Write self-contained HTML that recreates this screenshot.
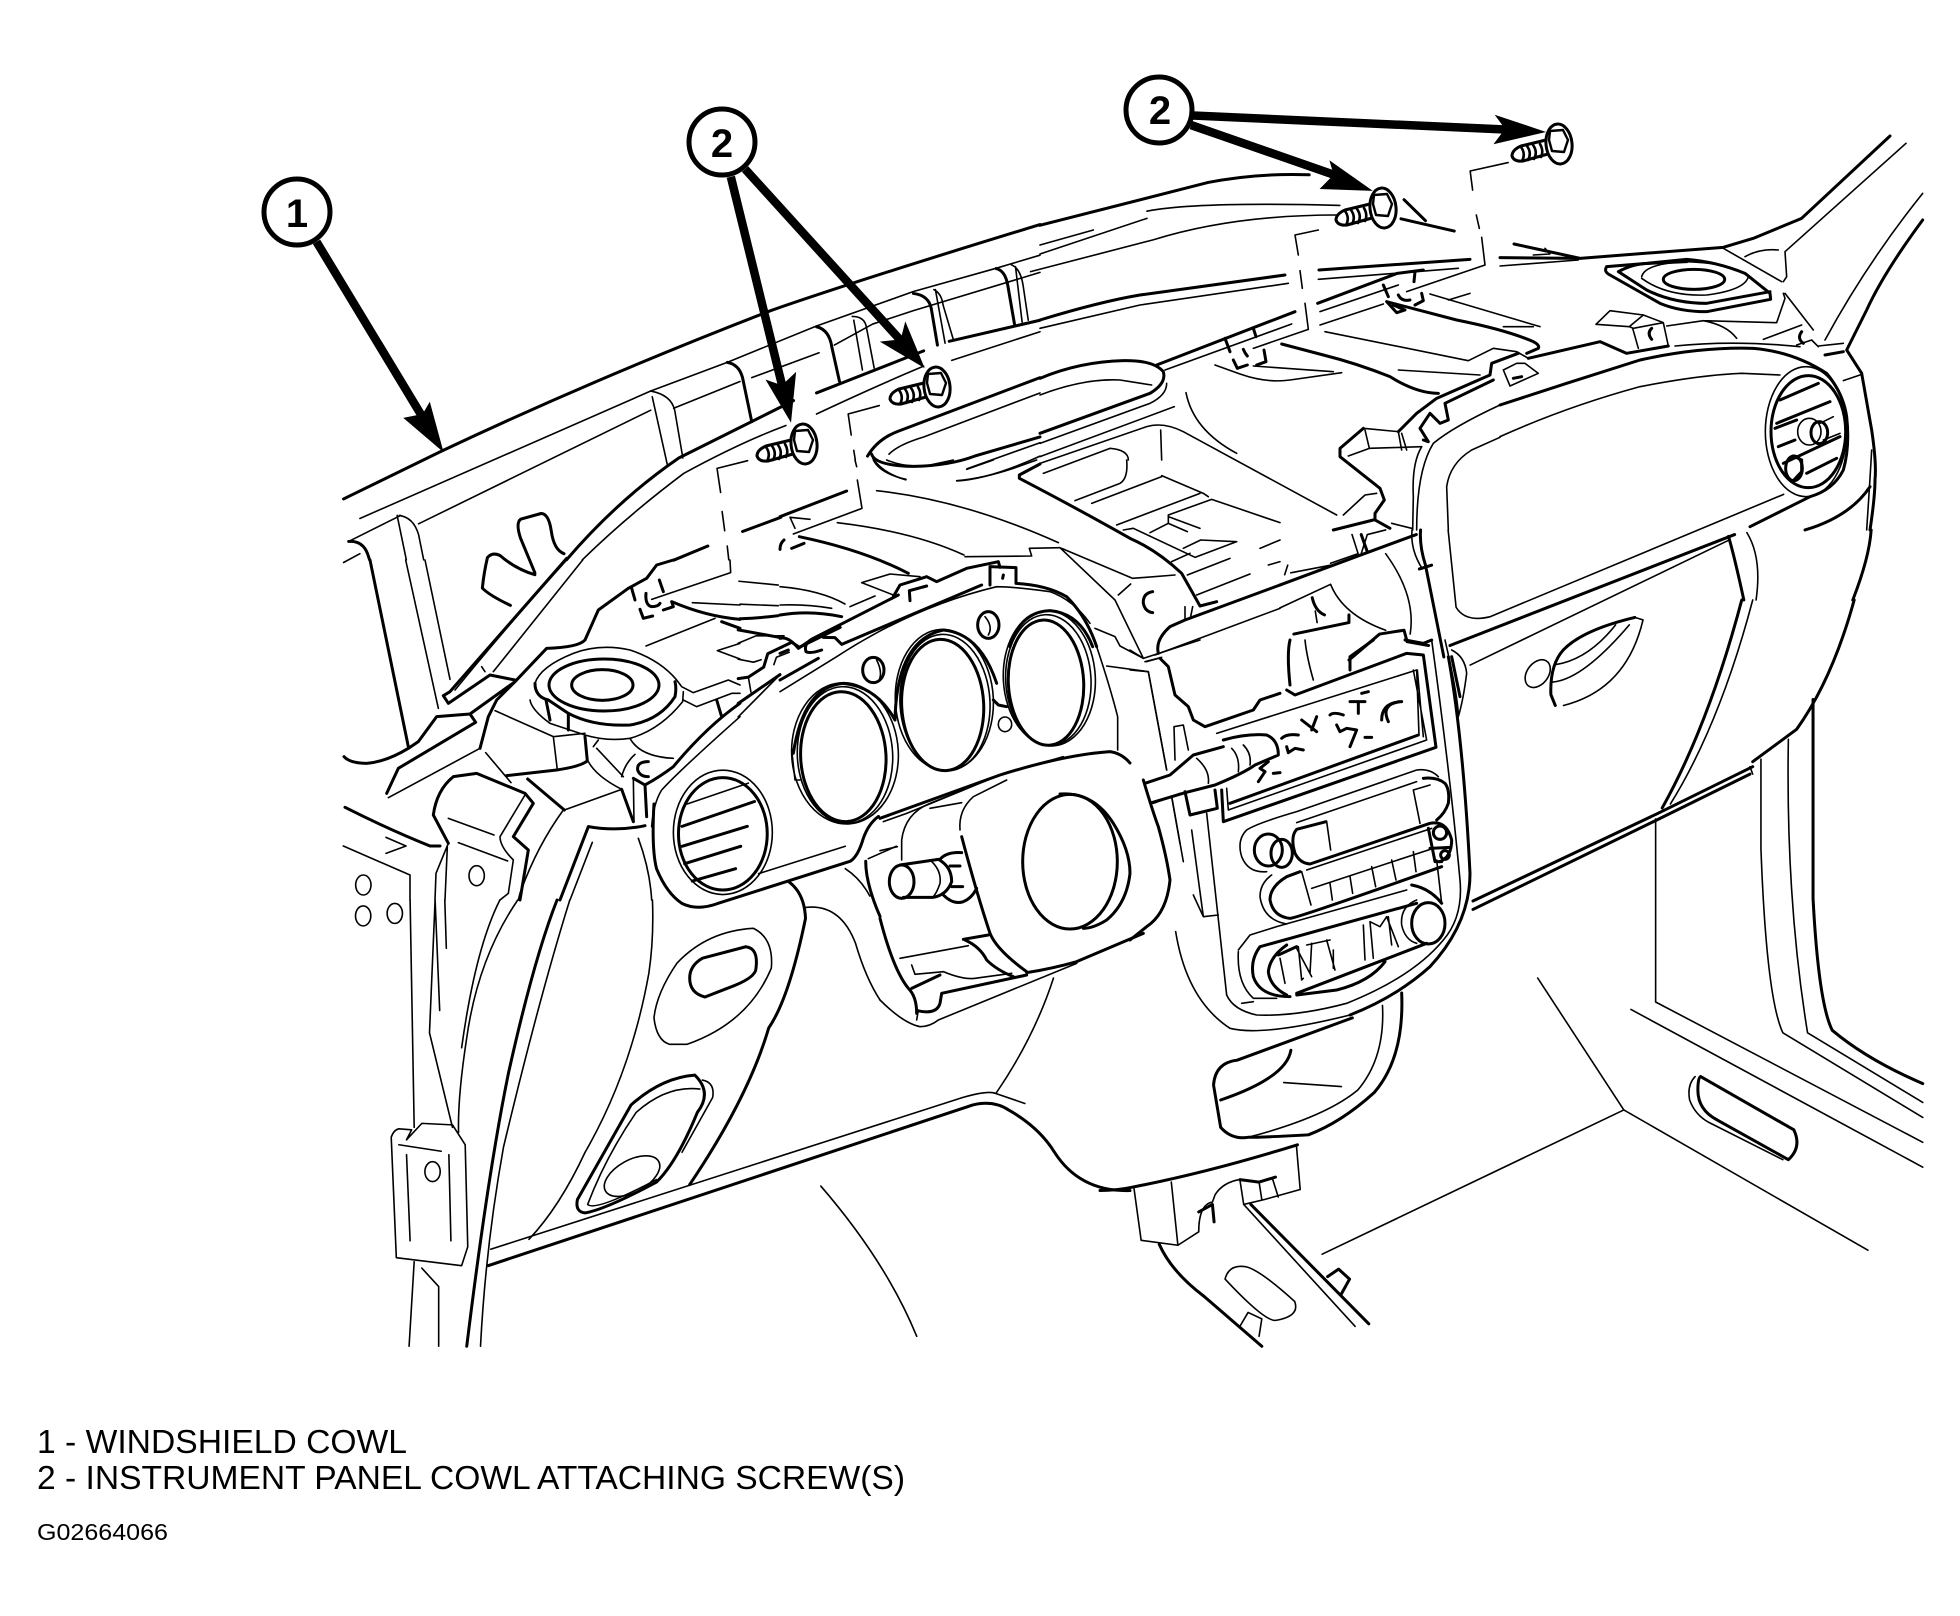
<!DOCTYPE html>
<html><head><meta charset="utf-8"><title>Windshield cowl diagram</title>
<style>
html,body{margin:0;padding:0;background:#fff;width:1960px;height:1616px;overflow:hidden}
svg{display:block}
path,ellipse,line{fill:none;stroke:#000;vector-effect:non-scaling-stroke;stroke-linejoin:round;stroke-linecap:round}
.t path,.t ellipse{stroke-width:1.6}
.k path,.k ellipse{stroke-width:3}
.a path{stroke-width:8.5;stroke-linecap:butt}
.a polygon{fill:#000;stroke:none}
.c ellipse{stroke-width:5;fill:#fff}
text{font-family:"Liberation Sans",sans-serif;fill:#000}
</style></head><body>
<svg width="1960" height="1616" viewBox="0 0 1960 1616" xmlns="http://www.w3.org/2000/svg">
<defs><g id="s">
<path style="stroke-width:3" d="M-13,-4 L-38,2 Q-47,6 -47,12 Q-45,18 -36,17 L-11,10"/>
<path style="stroke-width:2.6" d="M-38,3 Q-33,10 -37,17 M-32,2 Q-27,9 -31,16 M-26,1 Q-21,8 -25,15 M-19,0 Q-15,7 -18,13"/>
<ellipse cx="0" cy="0" rx="13" ry="20" transform="rotate(-6)" style="stroke-width:3;fill:#fff"/>
<path style="stroke-width:2.4" d="M-9,-13 L4,-14 L9,-4 L5,8 L-7,7 L-10,-4Z"/>
</g></defs>

<!-- Z2 upper left -->
<g transform="translate(240,60) scale(.5102,.3827)">
<g class="k">
<path d="M203,1147 L395,1022 Q700,830 1040,655 Q1200,580 1568,430"/>
<path d="M640,1306 Q740,1150 860,1040 L1085,890 M1130,870 L1340,760 M1390,735 L1568,680"/>
<path d="M213,1258 Q240,1255 250,1290 L254,1306"/>
<path d="M955,790 Q978,795 985,830 L1003,945 M1130,697 Q1155,705 1160,750 L1175,840 M1320,610 Q1350,615 1355,650 L1367,745 M1482,545 Q1500,550 1505,590 L1518,690"/>
<path d="M578,1345 Q540,1330 510,1295 Q495,1285 485,1300 Q478,1340 475,1380 Q490,1400 530,1425 M635,1290 Q615,1280 610,1230 Q605,1185 590,1185 L550,1200 Q540,1210 550,1250 L578,1340"/>
<path d="M1230,1035 Q1250,990 1290,970 L1568,830 M1238,1030 Q1245,1060 1320,1062 Q1390,1060 1440,1035 L1568,985"/>
<path d="M985,1232 L1060,1195"/>
<path d="M850,1307 L917,1270 M980,1460 Q1020,1458 1055,1452"/>
</g>
<g class="t">
<path d="M235,1198 L805,865 L955,790 L1130,695 L1320,605 L1480,545 L1568,510"/>
<path d="M350,1212 L805,915 M850,910 L980,840 M1003,830 L1135,765 M1165,745 L1240,690 L1320,655 L1568,555"/>
<path d="M213,1258 L315,1190"/>
<path d="M312,1190 Q340,1195 350,1240 L360,1306 M308,1190 L326,1306"/>
<path d="M805,865 Q845,875 852,915 L868,1040 M808,880 L838,1060"/>
<path d="M1200,670 Q1225,670 1228,700 L1243,805 M1203,680 L1220,810"/>
<path d="M1360,600 Q1375,610 1378,640 L1398,730 M1363,600 L1382,740"/>
<path d="M1512,535 Q1530,545 1535,590 L1545,680 M1520,540 L1533,685"/>
<path d="M671,1306 Q760,1190 870,1080 Q980,1000 1070,955 M1130,925 Q1250,850 1340,800 M1395,785 L1568,710"/>
<path d="M203,1313 L235,1290"/>
<path d="M995,1047 L935,1067 L942,1130 M945,1180 L950,1230 M955,1270 L958,1306"/>
<path d="M1253,903 L1192,925 L1198,980 M1203,1020 L1206,1045"/>
<path d="M1272,1030 Q1290,1005 1340,985 L1568,870 M1240,1040 Q1260,1080 1305,1097 M1425,1068 L1568,1000 M1405,1100 Q1470,1095 1568,1035"/>
<path d="M980,1422 L1055,1426 M978,1362 L1055,1372"/>
</g>
<g class="a"><path d="M150,475 L370,960 M962,305 L1068,880 M990,285 L1310,755"/>
<polygon points="320,935 399,1025 372,893 358,925"/>
<polygon points="1030,835 1080,948 1090,815 1062,850"/>
<polygon points="1254,736 1342,805 1304,683 1295,730"/></g>
</g>

<!-- Z3 upper right: remaining -->
<g transform="translate(1000,60) scale(.6122,.3827)">
<g class="k">
<path d="M65,432 L340,320 Q420,295 505,300"/>
<path d="M655,415 L742,447 M660,365 L695,420"/>
<path d="M687,1228 Q685,1270 695,1320 L725,1560"/>
<path d="M735,1530 L1200,1240"/>
<path d="M1423,1228 Q1420,1300 1393,1411"/>
<path d="M457,1372 L590,1293 L680,1240 M590,1240 L600,1285 M510,1405 Q515,1440 530,1450 M480,1500 L570,1470 L570,1450 M570,1568 L620,1500 L660,1490 L665,1520 L700,1530 M685,1330 L705,1320"/>
<path d="M1190,1245 Q1200,1300 1215,1411"/>
</g>
<g class="t">
<path d="M50,553 L250,470 Q380,405 550,405 M240,395 Q320,370 555,380"/>
<path d="M830,268 L768,290 L772,340 M778,405 L783,440"/>
<path d="M673,1228 Q670,1280 690,1330"/>
<path d="M732,1228 L745,1430 Q760,1470 800,1455 L1280,1135"/>
<path d="M575,1240 L585,1290 L540,1315 M590,1290 L600,1240 L630,1228 M540,1320 L475,1340 M470,1320 L465,1345 M457,1432 L540,1370 M540,1370 Q560,1450 630,1490 M518,1470 L515,1440 M630,1290 Q680,1400 670,1500"/>
<path d="M768,1581 L1190,1255 M1220,1235 Q1245,1300 1235,1411"/>
</g>
<g class="a"><path d="M315,145 L830,182 M312,170 L560,308"/>
<polygon points="808,143 892,188 806,220 825,180"/>
<polygon points="522,337 609,342 538,262 545,300"/></g>
</g>

<!-- G9 tray/cowl centre -->
<g transform="translate(1040,230) scale(.33333)">
<g class="k">
<path d="M0,270 Q180,215 300,195 L735,135"/>
<path d="M837,120 L1290,88 M833,220 L1072,130 L1150,120"/>
<path d="M1030,165 L1045,200 M1125,125 L1122,155 M1040,215 L1070,248 L1095,240 L1060,225 M1075,195 Q1085,215 1110,210 M1145,190 L1150,212 L1125,225 M1040,215 L1250,270 Q1400,300 1480,335 Q1500,345 1495,355 L1460,370"/>
<path d="M350,405 L765,245 M555,325 L570,365 M640,295 L648,320 M580,390 L592,415 L622,405 M610,358 Q615,370 622,378 M650,405 L678,395 L672,360"/>
<path d="M725,342 L850,375 Q950,400 1050,440 Q1130,490 1195,490"/>
<path d="M0,445 Q120,395 250,392 Q340,390 370,425 Q380,460 330,490 L0,610"/>
<path d="M970,595 L900,655 L900,680 L1020,775 L1033,810 L1005,850 L1005,870 L1050,895"/>
<path d="M1075,605 L1130,550 L1190,505 L1350,435 L1355,400 L1435,370"/>
<path d="M1150,630 L1165,635 L1140,595 L1170,550 L1200,580 L1225,570 L1215,520 L1360,450"/>
<path d="M880,900 L1000,870"/>
</g>
<g class="t">
<path d="M0,295 L300,225 L745,160 M0,45 L160,0 M0,72 L321,-35"/>
<path d="M835,0 L765,15 L775,75 M780,122 L787,175 M795,220 L805,298 L640,355"/>
<path d="M835,148 L1255,115 M840,245 L1075,165 M840,285 L1030,222 M1325,22 L1335,105 L1100,185"/>
<path d="M1170,192 L1500,290 M1225,210 L1290,190 M1390,290 L1480,290"/>
<path d="M375,420 L755,282 M855,305 L1285,392 L1360,355 L1430,365 L1465,385"/>
<path d="M525,405 L600,432 Q680,460 750,450 L905,428 M640,408 L880,425 M1075,420 L1320,435"/>
<path d="M0,495 Q130,445 240,450 L335,465 M380,460 Q380,495 330,520 L0,640 M0,680 L403,530"/>
<path d="M0,700 L320,590 Q370,575 430,605 L890,855 M10,730 L210,655 Q265,660 265,690 M362,600 L365,690"/>
<path d="M438,488 Q460,600 590,670"/>
<path d="M970,595 L1075,605 L1085,660 M975,600 L988,655 L925,678 M988,655 L1145,650 M1085,610 L1100,660 M910,855 L975,795 L1010,790"/>
<path d="M1120,800 Q1115,700 1145,650 M1120,800 L1118,900 M1130,900 Q1130,720 1180,640 Q1240,590 1380,525 M1225,900 L1220,770 Q1230,700 1295,660 L1380,622"/>
<path d="M1055,880 L1115,895"/>
</g>
</g>

<!-- G10 right corner -->
<g transform="translate(1500,130) scale(.33333)">
<g class="k">
<path d="M1170,18 L905,265 L760,325 L670,352 L240,385 L0,383 M42,342 L240,385"/>
<path d="M1268,270 Q1150,430 1100,540 L1040,660 L1085,730 L1115,900 Q1130,1000 1125,1050 Q1125,1100 1110,1200"/>
<path d="M320,410 L440,400 L560,388 Q650,395 735,430 L810,490 L812,508 L620,545 Q540,545 480,520 L330,435 Q310,425 320,410"/>
<path d="M355,425 Q400,400 450,400 L560,395 M355,425 L440,480 Q520,520 620,520 L810,485"/>
<ellipse cx="582" cy="448" rx="92" ry="30"/>
<path d="M455,595 Q440,610 455,628 M40,745 L65,740"/>
<path d="M85,685 L300,635 L380,670 L505,648"/>
<path d="M905,605 Q890,625 910,640 M975,675 L1030,665"/>
<path d="M0,825 L200,760 L420,690 Q600,650 760,655 Q880,665 980,730 Q1030,790 1040,860 Q1050,950 1030,1020 Q1000,1080 930,1100 L750,1190"/>
<path d="M915,1200 Q1050,1160 1110,1070"/>
<ellipse cx="925" cy="905" rx="112" ry="168"/>
<path d="M840,810 L955,760 M825,895 L890,870 M830,880 L990,815 M835,950 L885,930 M850,1000 L1020,920 M920,1030 L1010,985"/>
<ellipse cx="958" cy="908" rx="25" ry="33"/>
<ellipse cx="882" cy="1015" rx="25" ry="37"/>
<path d="M880,978 L905,990 L905,1025 L880,1052"/>
</g>
<g class="t">
<path d="M0,408 L235,390 M100,375 L150,372 L135,355"/>
<path d="M1218,40 L855,365 L860,440 L850,455 M670,355 L845,455 M855,490 L940,600 M850,490 L855,505 L830,578 L610,572 L500,588 M610,572 Q680,585 710,625 M735,380 Q780,355 835,360"/>
<path d="M1268,190 Q1100,400 975,630 M1115,960 Q1110,1050 1100,1200"/>
<path d="M425,440 Q435,400 560,395 Q700,400 745,440 Q735,480 620,495 Q500,500 425,445"/>
<path d="M288,583 L330,542 L430,555 L388,590 L288,583 M430,555 L490,578 L505,648 M398,595 L415,655 M388,590 L400,595 L490,578"/>
<path d="M525,648 Q700,630 900,650 M10,720 L50,700 L75,700 L115,730 L30,768 L10,720"/>
<path d="M0,920 Q200,830 420,770 Q600,735 725,730 L840,735"/>
<path d="M955,648 L1030,640 M890,645 L935,630 L955,650 M790,628 L905,585 M1030,752 L1080,735"/>
<ellipse cx="918" cy="905" rx="122" ry="195"/>
<ellipse cx="928" cy="905" rx="35" ry="40"/>
<path d="M960,880 L1000,860 M970,930 L1020,910"/>
</g>
</g>

<!-- G11 left speaker / pillar top -->
<g transform="translate(340,560) scale(.33333)">
<g class="k">
<path d="M90,0 L205,560"/>
<path d="M680,-5 Q500,200 330,395 L310,407 L325,430 L450,345 L525,360"/>
<path d="M525,365 L470,420 L445,470 L420,565 M525,365 L390,462 L290,470 L235,545 L205,565 Q140,605 80,610 Q30,610 12,590 M390,462 L407,487 L175,625 L140,700"/>
<path d="M1000,0 L950,15 L920,55 L865,85 L775,150 L735,240 Q715,262 620,265 L525,365"/>
<path d="M875,85 L885,120 M958,60 L970,95 M918,100 Q915,135 935,140 Q955,140 960,130 M900,148 L910,175 L938,168 M970,150 L1000,140 L995,125 Q1100,170 1200,178 M1145,185 L1200,205"/>
<path d="M585,370 Q585,410 625,420 L685,460 Q760,500 870,495 Q960,480 1005,410 Q1010,385 1005,365"/>
<ellipse cx="792" cy="375" rx="165" ry="78"/>
<ellipse cx="787" cy="375" rx="92" ry="46"/>
<path d="M618,420 L630,480 M685,460 L685,510"/>
<path d="M500,647 L650,630 Q720,620 742,603 L735,530 M563,657 L673,750"/>
<path d="M925,605 Q890,605 893,630 Q900,650 925,650 M845,688 L880,785 M880,655 L915,675 Q960,650 1000,620 Q1100,500 1200,430 M915,675 L920,770 M1130,420 L1145,470"/>
<path d="M745,800 Q830,815 915,797 M745,800 L660,1020"/>
<path d="M280,765 Q290,690 340,650 L410,640 L555,700 L580,730 L520,830 L565,870 L540,1020 M280,765 L325,850"/>
<path d="M15,742 Q150,810 270,858 L300,858"/>
</g>
<g class="t">
<path d="M197,0 L295,445 M255,0 L330,358"/>
<path d="M680,0 Q500,200 345,390 M728,0 L460,335 M425,320 L435,335 M145,713 L420,565"/>
<path d="M1170,0 L1172,38 L935,118 M1057,128 L1200,135 M918,258 L1125,175 M1132,272 L1200,250 M1132,272 L1200,297"/>
<path d="M585,370 Q600,320 700,280 Q780,250 870,270 Q960,300 1010,360 L1025,380 L1060,398 L1165,360 L1200,375"/>
<path d="M570,420 Q575,450 630,490 L735,525 Q800,545 870,535 Q960,510 1028,425 L1030,395"/>
<path d="M465,452 L640,530 L735,520 M640,530 L652,630 M437,578 L513,668 M673,750 L845,688 M745,605 Q770,650 845,688 M770,565 L850,650 M760,560 L775,540 M845,650 Q855,610 885,583 M870,535 Q900,590 1000,595 M880,655 L882,785 M1030,420 L1070,440 L1175,400 L1200,400"/>
<path d="M1200,470 Q1020,630 965,690 Q940,730 935,800 M757,847 L690,1020 M895,835 Q930,930 935,1020 M670,750 Q590,860 540,1000 L535,1020"/>
<path d="M555,705 L480,830 Q480,860 520,900 L505,1000 L480,1020 M325,775 L462,825 M355,848 L503,903 M325,850 L288,940 L285,1020 M322,860 L315,1020"/>
<path d="M10,858 L210,945 L210,1020 M138,832 L198,858 L138,880"/>
<ellipse cx="70" cy="975" rx="23" ry="30"/>
<ellipse cx="410" cy="947" rx="23" ry="30"/>
</g>
</g>

<!-- Z4 lower left -->
<g transform="translate(330,600) scale(.5102,.4975)">
<g class="k">
<path d="M800,60 L880,75"/>
<path d="M800,158 L820,155 L850,135 L858,108 L905,85 L920,95 L1000,55"/>
<path d="M800,208 L882,150"/>
<path d="M635,410 Q630,500 640,540 Q660,590 690,610 Q720,625 760,610 L1020,525 Q1035,515 1045,480 Q1055,450 1075,435"/>
<path d="M690,455 L832,405 M690,495 L818,455 M695,530 L805,495 M710,565 L795,540"/>
<ellipse cx="770" cy="470" rx="87" ry="113"/>
<path d="M445,603 Q400,720 350,950 Q310,1150 268,1500"/>
<path d="M705,760 Q705,735 730,720 L815,697 Q840,700 835,740 Q835,760 780,780 L735,798 Q705,790 705,760"/>
<path d="M900,567 Q930,590 932,640 Q900,800 860,860 Q820,1000 705,1175"/>
<path d="M715,955 Q650,960 590,1015 L485,1205 Q480,1230 500,1232 Q540,1225 640,1170 Q680,1130 720,1030 Q750,990 715,955"/>
<path d="M310,1338 L1260,1015 Q1300,1005 1330,1025 Q1390,1060 1420,1110 Q1470,1190 1568,1187"/>
<path d="M1050,525 Q1050,570 1078,636"/>
</g>
<g class="t">
<path d="M800,235 L882,150"/>
<path d="M800,87 L835,72 L890,72 M800,119 L830,125 L845,120"/>
<path d="M840,550 L1010,495"/>
<ellipse cx="770" cy="467" rx="97" ry="125"/>
<path d="M700,410 L820,368"/>
<path d="M470,603 Q410,800 340,1100 Q305,1300 295,1500 M632,603 Q635,680 625,750 Q590,950 500,1110 Q450,1220 390,1285"/>
<path d="M333,603 Q285,700 258,900 M368,603 Q290,720 268,880 Q250,1000 252,1070"/>
<path d="M157,603 L165,1060 M165,1330 L155,1500 M180,1343 L213,1380 L213,1500"/>
<ellipse cx="65" cy="635" rx="15" ry="20"/><ellipse cx="127" cy="630" rx="15" ry="20"/>
<path d="M206,603 L215,825 M195,870 L240,1060 M206,603 L195,870 M225,603 L228,700"/>
<path d="M120,1080 Q125,1065 135,1063 L160,1065 L150,1085 L180,1052 L240,1055 L265,1095 L270,1300 L258,1338 L130,1322 Z M135,1095 L218,1108 M150,1115 L157,1288 M233,1115 L237,1288"/>
<ellipse cx="201" cy="1149" rx="15" ry="20"/>
<path d="M635,840 Q640,790 680,730 Q740,665 830,660 Q870,680 865,740 Q820,850 700,893 L665,893 Q640,885 635,840"/>
<path d="M932,618 Q1000,610 1030,690 Q1050,760 1078,804"/>
<path d="M725,983 Q660,975 600,1030 Q540,1120 505,1215 Q520,1230 640,1165 M730,965 Q755,970 750,1000 L690,1110"/>
<ellipse cx="592" cy="1158" rx="60" ry="32" transform="rotate(-30 592 1158)"/>
<path d="M315,1305 L1240,1000 Q1290,985 1305,992 M1305,992 L1362,1012 M1305,992 Q1380,880 1418,760"/>
<path d="M962,1178 Q1090,1330 1150,1480"/>
<path d="M825,185 L820,155 M870,130 L875,115 L900,105 M1010,540 Q1040,560 1058,595 M1055,520 L1110,495"/>
</g>
</g>

<!-- Z6 central / gauges -->
<g transform="translate(780,460) scale(.33333)">
<g class="k">
<path d="M0,170 L200,93 M58,230 Q250,270 385,340 M35,265 L72,250 M12,240 Q0,250 0,268"/>
<path d="M1118,395 Q1088,400 1090,430 Q1095,455 1118,458"/>
<path d="M780,12 L718,45 L718,55 Q900,150 1050,235 Q1130,270 1205,340 L1250,420 L1260,438 L1310,425"/>
<path d="M340,410 L360,375 L415,358 L440,350 L470,365 L560,325 L655,305 L660,322 M630,375 L630,320 L708,323 L708,370 Q800,375 860,410 Q920,470 950,560"/>
<path d="M670,345 L668,355 M390,422 L388,392 L440,378"/>
<path d="M355,405 L100,535 Q70,550 78,575 Q90,582 125,570 M130,532 L165,533 L185,553 L605,375 M0,535 Q25,528 55,565 L100,535 M0,580 L25,570 M0,660 L115,595"/>
<path d="M0,465 Q90,450 185,470"/>
<path d="M1135,580 Q1125,540 1170,500 L1215,480 L1500,375 M1140,595 L1165,620 L1185,705 L1225,740 L1240,780 L1275,800 L1420,750 L1440,720 L1500,700"/>
<ellipse cx="798" cy="668" rx="113" ry="188" transform="rotate(-3 798 668)"/>
<ellipse cx="488" cy="735" rx="123" ry="197" transform="rotate(-3 488 735)"/>
<ellipse cx="190" cy="890" rx="128" ry="195" transform="rotate(-3 190 890)"/>
<path d="M300,1075 L660,945 Q850,885 990,875 Q1025,880 1050,909"/>
<ellipse cx="280" cy="630" rx="32" ry="38"/><ellipse cx="625" cy="495" rx="32" ry="40"/>
<path d="M640,720 L655,735 L680,740"/>
<path d="M690,560 Q720,455 810,452 Q900,460 938,560 M345,780 Q350,540 490,510 Q600,520 650,670 M40,880 Q70,680 190,670 Q290,680 345,780"/>
</g>
<g class="t">
<path d="M232,60 L246,145 L40,222 M225,0 L230,20 M30,172 L90,178 M30,172 L45,205"/>
<path d="M290,92 Q550,120 835,248 M172,188 Q400,215 552,285 M555,290 L755,288 L748,265 L840,263"/>
<path d="M840,263 L1005,420 L1090,595 M845,265 L1058,355 L1185,345 M1015,405 L1052,372"/>
<path d="M1145,47 L1270,100 L1285,110 M1040,0 Q1045,55 1020,70 L885,122 M935,130 L1145,50 M1010,195 L1260,100 M1165,165 L1295,118 L1500,188 M1165,165 L1165,190 L1110,218 M1165,170 L1260,205 M1165,190 L1222,215 M1030,210 L1060,205 L1245,292 L1370,245 M1210,265 L1262,240 L1370,245 M1175,305 L1230,280 M1222,345 L1350,295 M1250,405 L1410,342 M1465,315 L1500,305 M1440,265 L1500,240"/>
<path d="M280,0 Q300,40 378,58 M320,0 Q380,25 450,15 L520,0 M560,28 L640,0 M530,62 Q610,55 700,25 L770,0"/>
<path d="M245,368 L340,405 M245,368 L330,342 L420,350 M210,440 L285,408"/>
<path d="M0,695 L170,590 Q400,440 650,380 Q700,380 810,395 Q880,420 930,490"/>
<path d="M950,560 Q990,680 1013,770 L1013,870"/>
<path d="M0,435 Q80,432 155,445 M0,380 Q120,390 195,432"/>
<path d="M945,505 L1005,530 L1020,558 L1090,595 M980,618 L1105,635 L1160,930 M1095,605 L1135,595 M1125,585 L1500,445 M1215,475 L1215,440 M1232,470 L1238,440"/>
<ellipse cx="808" cy="655" rx="138" ry="203" transform="rotate(-3 808 655)"/>
<ellipse cx="805" cy="660" rx="128" ry="196" transform="rotate(-3 805 660)"/>
<ellipse cx="493" cy="720" rx="147" ry="212" transform="rotate(-3 493 720)"/>
<ellipse cx="495" cy="728" rx="135" ry="205" transform="rotate(-3 495 728)"/>
<ellipse cx="195" cy="880" rx="160" ry="212" transform="rotate(-3 195 880)"/>
<ellipse cx="195" cy="885" rx="143" ry="205" transform="rotate(-3 195 885)"/>
<ellipse cx="675" cy="793" rx="20" ry="22"/>
<path d="M290,600 Q310,640 295,665 M615,470 Q640,500 625,525 M35,870 L45,960 L60,960"/>
<path d="M380,1060 L660,945 L850,890"/>
</g>
</g>

<!-- Z8 airbag -->
<g transform="translate(880,780) scale(.33333)">
<g class="k">
<path d="M245,170 Q290,340 330,460 Q350,510 440,575 M440,578 Q520,565 590,545 L790,460"/>
<ellipse cx="570" cy="245" rx="142" ry="202"/>
<path d="M540,42 Q640,35 700,130 Q750,210 750,280 Q740,370 680,420 Q640,445 610,445"/>
<ellipse cx="65" cy="305" rx="37" ry="50"/>
<path d="M60,255 L175,238 Q215,260 215,305 Q200,345 160,352 L70,352"/>
<path d="M180,238 Q200,215 245,218 M190,345 Q220,375 250,365 Q275,355 290,325 M210,258 L240,258 M215,320 L248,320"/>
<path d="M0,415 Q40,570 85,625 Q110,650 110,700 M95,625 L180,585 M250,478 L325,465 M255,480 Q300,500 320,540 Q350,570 400,590 M185,640 L440,585 M112,692 Q170,705 180,670 L185,640"/>
</g>
<g class="t">
<path d="M240,150 Q235,90 280,50 L380,0"/>
<path d="M150,240 Q185,270 180,310 Q170,340 158,352"/>
<path d="M65,240 L65,180 Q75,100 150,70 L250,30 M10,125 L80,100 M150,85 L245,68 M0,212 L52,200"/>
<path d="M0,660 Q70,730 120,740 Q150,740 175,720 L590,550 M60,535 L265,497 M95,555 L105,583 L190,575 Q250,600 285,595 L395,580 M115,690 L110,720"/>
<path d="M820,70 L900,40 M875,50 L900,190"/>
</g>
</g>

<!-- Z7 radio -->
<g transform="translate(1130,640) scale(.33333)">
<g class="k">
<path d="M470,150 L495,165 L830,40 L880,45 L918,322 L280,545 L275,450"/>
<path d="M300,490 L865,285"/>
<path d="M455,295 Q470,280 505,285 M470,320 L475,338 L495,325 L520,330 M515,240 L560,275 M560,230 L545,270 M600,225 Q610,215 640,225 M620,255 L630,275 L650,265 L680,270 M680,270 L660,320 M705,292 L725,292 M660,185 L705,185 M685,185 L685,220 M695,160 L715,155 M775,245 Q750,190 815,185 M755,240 Q755,190 810,185"/>
<path d="M45,430 L120,405 L190,345 L280,320 M280,300 Q350,280 410,285 Q445,300 445,345 L375,375 Q340,400 255,435 L165,458 L65,488 M165,455 L180,525 L262,505 L255,450 M415,365 L390,385 L405,395 L385,425 M430,400 L450,398"/>
<path d="M40,420 Q70,520 85,560 Q110,650 120,720 Q110,820 50,860 L0,900"/>
<path d="M955,50 Q1000,300 1020,700 Q1020,850 900,980 Q800,1070 660,1125"/>
<path d="M965,50 L990,170"/>
<path d="M480,135 Q470,40 480,0 M660,90 L660,50 L730,0 M825,0 L880,10 L905,0"/>
<ellipse cx="415" cy="630" rx="42" ry="48"/><ellipse cx="455" cy="640" rx="32" ry="42"/>
<path d="M588,545 L500,568 Q480,590 495,640 Q510,670 540,672 L900,550 Q950,540 965,600 Q965,650 930,665"/>
<path d="M880,415 Q920,410 945,430 Q960,450 955,490 Q945,520 920,540"/>
<path d="M895,565 L915,665 L935,665 M900,625 L960,622"/>
<ellipse cx="930" cy="578" rx="20" ry="20"/><ellipse cx="945" cy="645" rx="13" ry="13"/>
<path d="M510,695 L470,710 Q420,740 420,780 Q430,830 480,835 Q500,835 935,680"/>
<path d="M845,735 Q900,745 935,790"/>
<ellipse cx="895" cy="850" rx="50" ry="62"/>
<path d="M890,910 L500,1060 M860,790 L390,920 Q360,960 370,1010 Q390,1070 480,1070 M470,915 Q420,950 415,995 Q420,1040 470,1065 M765,965 Q720,1025 620,1050 L500,1065"/>
<path d="M445,945 L500,920"/>
</g>
<g class="t">
<path d="M0,30 L40,55 M40,55 L210,0 M0,90 L55,95 L110,390 M50,65 L95,52"/>
<path d="M850,90 L890,300 L295,510 L290,445 M862,90 L880,290 M260,280 L860,90 L867,285"/>
<path d="M200,355 Q240,390 235,430 M305,325 Q330,350 325,395 M340,315 Q365,340 360,375 M135,360 L132,260 L160,255 L175,330"/>
<path d="M125,470 L160,665 M185,570 L220,830 L265,825 M230,520 L290,1065 M190,765 L220,830"/>
<path d="M137,875 Q170,1080 300,1165 Q400,1190 660,1125"/>
<path d="M905,0 Q960,400 990,720 Q1000,830 940,900 Q850,1010 650,1090 Q500,1130 380,1125 Q310,1110 290,1065"/>
<path d="M945,0 Q980,150 985,220 M965,30 Q1005,50 1010,100 Q1000,180 985,230"/>
<path d="M550,120 Q530,50 525,0"/>
<path d="M410,695 Q355,700 335,650 Q320,600 350,570 Q380,550 500,515 L860,390 Q900,385 925,410"/>
<path d="M590,545 L602,630 M850,450 L870,550 M850,450 L900,435 M500,548 L860,425"/>
<path d="M530,690 L905,565 M545,745 L910,625 M600,730 L607,780 M660,710 L668,760 M725,680 L737,740 M785,660 L798,720 M850,635 L858,695 M515,695 L543,795"/>
<path d="M425,705 Q390,730 390,770 Q400,840 470,852 M920,660 L935,790"/>
<path d="M860,780 Q810,800 815,855 Q825,900 860,910 M830,750 L440,860 L360,885 L325,930 M325,935 Q320,1030 370,1075 L440,1075 M335,1090 L370,1085"/>
<path d="M450,955 L465,1030 M505,920 L515,1020 L520,1015 M545,910 L540,1000 M500,925 L545,1010 M530,915 L600,900 M590,900 L615,990 M610,930 L610,985"/>
<path d="M700,855 L705,960 M720,845 L730,955 M720,845 L750,860 L770,830 L805,920 M775,830 L785,915"/>
</g>
</g>

<!-- Z5 lower right -->
<g transform="translate(1100,600) scale(.5485,.4975)">
<g class="k">
<path d="M1375,0 Q1335,160 1270,260 L1190,325 M1170,0 Q1110,250 1025,418"/>
<path d="M1190,335 L1015,430 L680,605 M1185,350 L1010,445 L680,622"/>
<path d="M1300,200 L1300,600 Q1310,810 1335,865 Q1400,925 1500,972"/>
<path d="M1095,958 L1265,1065 Q1280,1100 1255,1125 L1125,1045 Q1090,1025 1090,985 Q1090,960 1095,958"/>
<path d="M975,35 Q880,60 845,100 Q820,130 822,190 L830,212"/>
<path d="M550,790 Q555,920 500,990 Q440,1050 380,1075 Q300,1080 270,1080 Q240,1085 220,1060 L207,975 Q210,930 250,925 L460,840"/>
<path d="M220,1005 Q340,960 348,905"/>
<path d="M360,1095 Q200,1150 60,1180 Q30,1187 0,1187"/>
<path d="M255,1165 L290,1170 L320,1160 M180,1230 L205,1215 L208,1250"/>
<path d="M108,1295 Q130,1350 190,1400 L295,1500 M275,1215 L490,1455 M415,1360 L435,1345 L455,1365 L440,1395"/>
</g>
<g class="t">
<path d="M1190,0 Q1130,250 1040,410 M1185,335 L1190,350"/>
<path d="M1013,440 L1013,808 L1500,1090 M968,823 L1500,1140"/>
<path d="M1205,320 L1205,500 Q1215,800 1245,870 L1500,1040 M1255,280 Q1250,600 1290,870 L1500,1010"/>
<path d="M798,760 L955,1025 L1400,1307 M955,1025 L405,1315"/>
<path d="M1085,958 Q1070,975 1075,1005 Q1085,1035 1110,1050 L1245,1125"/>
<ellipse cx="798" cy="148" rx="20" ry="30" transform="rotate(30 798 148)"/>
<path d="M845,212 Q960,180 990,40 L975,35 M830,130 Q890,120 940,50 M825,165 Q880,160 965,50"/>
<path d="M515,815 Q520,920 470,985 Q410,1040 270,1080 M335,970 L440,978"/>
<path d="M358,1095 L365,1185 L300,1205 L262,1215 L255,1165 Q225,1170 210,1195 L205,1210 Q180,1215 180,1270 L142,1297 L75,1287 L62,1183 M130,1170 L142,1297 M290,1170 L295,1205 M315,1165 L325,1200"/>
<path d="M262,1215 L465,1460 M255,1460 L270,1432 L295,1445 L290,1480 M228,1365 Q235,1335 265,1340 Q290,1345 355,1410 Q365,1440 320,1448 Q300,1450 228,1365"/>
</g>
</g>

<!-- screws -->
<use href="#s" transform="translate(804,444)"/>
<use href="#s" transform="translate(937,387)"/>
<use href="#s" transform="translate(1383,208)"/>
<use href="#s" transform="translate(1559,144)"/>

<!-- callouts -->
<g class="c">
<ellipse cx="297" cy="212" rx="33" ry="33"/>
<ellipse cx="722" cy="142" rx="33" ry="33"/>
<ellipse cx="1159" cy="110" rx="33" ry="33"/>
</g>
<g font-weight="bold" font-size="40" text-anchor="middle">
<text x="297" y="227">1</text><text x="722" y="157">2</text><text x="1160" y="124">2</text>
</g>
<text x="37" y="1453" font-size="33" textLength="370" lengthAdjust="spacingAndGlyphs">1 - WINDSHIELD COWL</text>
<text x="37" y="1489" font-size="33" textLength="868" lengthAdjust="spacingAndGlyphs">2 - INSTRUMENT PANEL COWL ATTACHING SCREW(S)</text>
<text x="37" y="1540" font-size="23" textLength="131" lengthAdjust="spacingAndGlyphs">G02664066</text>
</svg>
</body></html>
